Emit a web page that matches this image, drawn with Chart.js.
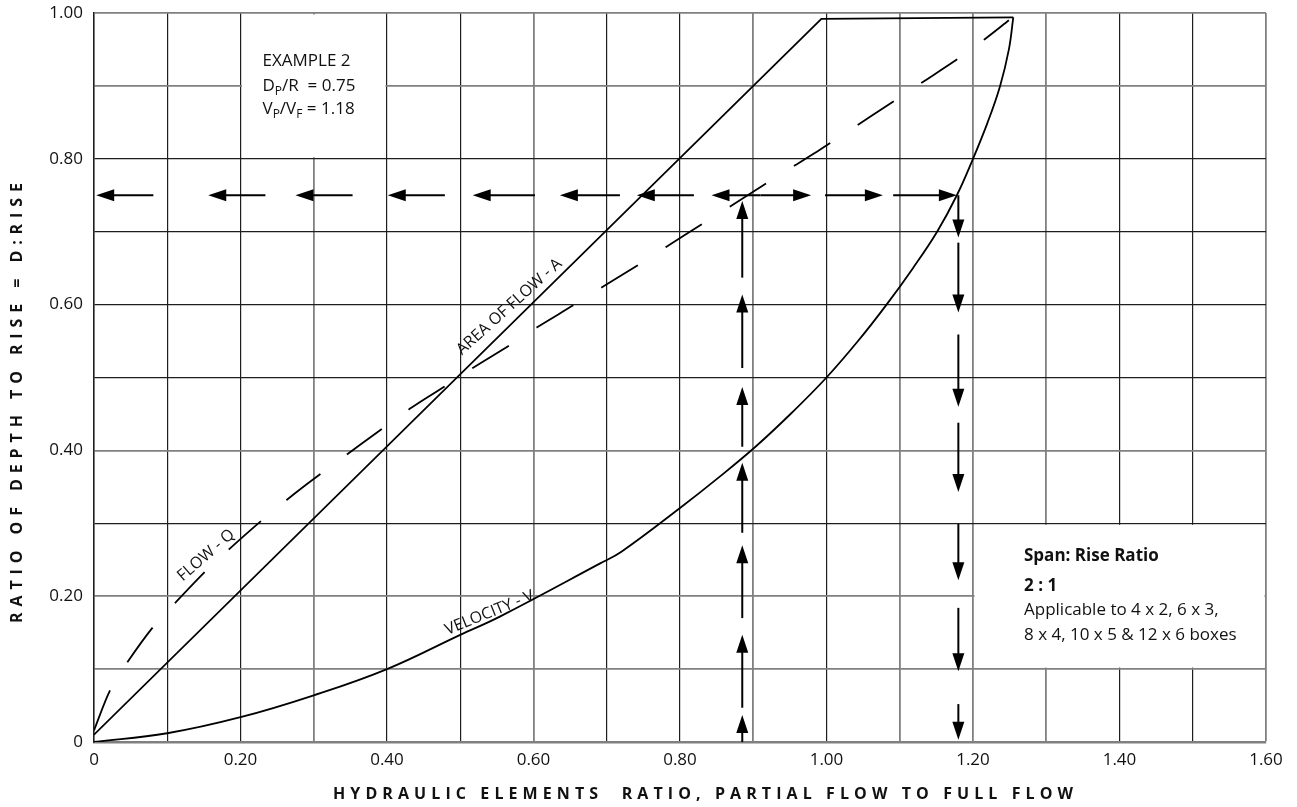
<!DOCTYPE html>
<html>
<head>
<meta charset="utf-8">
<title>Hydraulic elements – 2:1 box section</title>
<script src="https://cdn.jsdelivr.net/npm/chart.js@4.4.1/dist/chart.umd.min.js"></script>
<style>
  html, body { margin: 0; padding: 0; background: #fff; }
  #wrap { width: 1297px; height: 807px; position: relative; }
</style>
</head>
<body>
<div id="wrap"><canvas id="chart" width="1297" height="807"></canvas></div>
<script>
// ---- Tick labels (every second 0.1 step is labelled) ----
const xTickLabels = ['0', '0.20', '0.40', '0.60', '0.80', '1.00', '1.20', '1.40', '1.60'];
const yTickLabels = ['0', '0.20', '0.40', '0.60', '0.80', '1.00'];

// ---- Area of flow – A (solid) ----
const areaX = [0, 0.993, 1.255];
const areaY = [0.01, 0.992, 0.994];

// ---- Velocity – V (solid) ----
const velocityX = [0, 0.1, 0.2, 0.3, 0.4, 0.5, 0.554, 0.691, 0.72, 0.8, 0.853, 0.903, 0.953, 1.0, 1.043, 1.082, 1.118, 1.151, 1.178, 1.2, 1.22, 1.237, 1.249, 1.255];
const velocityY = [0, 0.012, 0.034, 0.064, 0.1, 0.147, 0.172, 0.245, 0.261, 0.321, 0.363, 0.405, 0.452, 0.5, 0.55, 0.6, 0.65, 0.7, 0.75, 0.8, 0.85, 0.9, 0.95, 0.994];

// ---- Flow – Q (dashed) ----
const flowX = [0, 0.022, 0.046, 0.080, 0.111, 0.152, 0.185, 0.229, 0.263, 0.299, 0.431, 0.479, 0.517, 0.567, 0.605, 0.656, 0.694, 0.744, 0.781, 0.831, 0.869, 0.919, 0.957, 0.992, 1.131, 1.18, 1.216, 1.249];
const flowY = [0.016, 0.071, 0.110, 0.157, 0.191, 0.234, 0.265, 0.304, 0.332, 0.36, 0.457, 0.488, 0.513, 0.544, 0.569, 0.6, 0.624, 0.655, 0.679, 0.711, 0.735, 0.767, 0.791, 0.813, 0.905, 0.9375, 0.964, 0.99];

// ---- Example 2 read-off ----
const depthRatio = 0.75;     // Dp/R
const velocityRatio = 1.18;  // Vp/Vf
const flowRatio = 0.885;     // Qp/Qf read at depth 0.75

// arrows along the depth line: [tail x, tip x]
const leftArrows  = [[0.081, 0.003], [0.234, 0.156], [0.353, 0.275], [0.479, 0.401], [0.602, 0.517], [0.718, 0.636], [0.819, 0.741], [0.91, 0.843]];
const rightArrows = [[0.91, 0.979], [0.998, 1.077], [1.091, 1.178]];
// arrows up the flow line and down the velocity line: [tail y, tip y]
const upArrows   = [[0, 0.037], [0.047, 0.147], [0.170, 0.270], [0.287, 0.383], [0.405, 0.487], [0.513, 0.614], [0.637, 0.742]];
const downArrows = [[0.75, 0.692], [0.685, 0.589], [0.559, 0.460], [0.438, 0.343], [0.299, 0.222], [0.184, 0.097], [0.052, 0.003]];

// ---- Styling ----
const FONT = "'Open Sans', 'DejaVu Sans', sans-serif";
const GREY = '#808080', DARK = '#1e1e1e';
// tone of each 0.1 grid line, g = grey / d = dark
const xGridTone = 'dddgddgddgdgggddg';
const yGridTone = 'gggdgddddgg';

Chart.defaults.font.family = FONT;
Chart.defaults.color = '#111';

const toPoints = (xs, ys) => xs.map((v, i) => ({ x: v, y: ys[i] }));

function drawArrow(ctx, x1, y1, x2, y2) {
  const L = 18, W = 6;
  const dx = x2 - x1, dy = y2 - y1, len = Math.hypot(dx, dy);
  const ux = dx / len, uy = dy / len;
  const bx = x2 - ux * L, by = y2 - uy * L;
  ctx.beginPath();
  ctx.moveTo(x1, y1);
  ctx.lineTo(bx + ux * 2, by + uy * 2);
  ctx.stroke();
  ctx.beginPath();
  ctx.moveTo(x2, y2);
  ctx.lineTo(bx - uy * W, by + ux * W);
  ctx.lineTo(bx + uy * W, by - ux * W);
  ctx.closePath();
  ctx.fill();
}

// draws a line of text made of runs, some of them subscript
function drawRuns(ctx, x, y, runs, size) {
  let cx = x;
  for (const [t, sub] of runs) {
    ctx.font = (sub ? Math.round(size * 0.7) : size) + 'px ' + FONT;
    ctx.fillText(t, cx, sub ? y + 5 : y);
    cx += ctx.measureText(t).width;
  }
}

function rotatedLabel(ctx, text, px, py, deg, size) {
  ctx.save();
  ctx.translate(px, py);
  ctx.rotate(deg * Math.PI / 180);
  ctx.font = size + 'px ' + FONT;
  ctx.textAlign = 'center';
  ctx.textBaseline = 'middle';
  ctx.fillText(text, 0, 0);
  ctx.restore();
}

function spacedText(ctx, text, cx, cy, width, rot) {
  ctx.save();
  ctx.font = 'bold 16px ' + FONT;
  ctx.letterSpacing = '0px';
  const w0 = ctx.measureText(text).width;
  const ls = (width - w0) / (text.length - 1);
  ctx.letterSpacing = ls + 'px';
  ctx.translate(cx, cy);
  if (rot) ctx.rotate(rot);
  ctx.textAlign = 'left';
  ctx.textBaseline = 'middle';
  ctx.fillStyle = '#111';
  ctx.fillText(text, -width / 2, 0);
  ctx.restore();
}

const notes = {
  id: 'notes',
  beforeDatasetsDraw(chart) {
    const { ctx, scales: { x, y } } = chart;
    ctx.save();
    ctx.fillStyle = '#fff';
    // white panels behind the two text blocks
    for (const [x0, x1, y0, y1] of [[0.2, 0.4, 0.8, 1.0], [1.2, 1.6, 0.1, 0.3]]) {
      const l = x.getPixelForValue(x0) + 1.5, r = x.getPixelForValue(x1) - 1.5;
      const t = y.getPixelForValue(y1) + 1.5, b = y.getPixelForValue(y0) - 1.5;
      ctx.fillRect(l, t, r - l, b - t);
    }
    ctx.restore();
  },
  afterDatasetsDraw(chart) {
    const { ctx, scales: { x, y } } = chart;
    ctx.save();
    ctx.strokeStyle = '#000';
    ctx.fillStyle = '#000';
    ctx.lineWidth = 2;
    const yd = y.getPixelForValue(depthRatio);
    for (const [a, b] of leftArrows.concat(rightArrows)) {
      drawArrow(ctx, x.getPixelForValue(a), yd, x.getPixelForValue(b), yd);
    }
    const xq = x.getPixelForValue(flowRatio);
    for (const [a, b] of upArrows) {
      drawArrow(ctx, xq, y.getPixelForValue(a), xq, y.getPixelForValue(b));
    }
    const xv = x.getPixelForValue(velocityRatio);
    for (const [a, b] of downArrows) {
      drawArrow(ctx, xv, y.getPixelForValue(a), xv, y.getPixelForValue(b));
    }

    // curve names
    ctx.fillStyle = '#111';
    rotatedLabel(ctx, 'AREA OF FLOW - A', x.getPixelForValue(0.567), y.getPixelForValue(0.597), -42, 16);
    rotatedLabel(ctx, 'FLOW - Q', x.getPixelForValue(0.153), y.getPixelForValue(0.256), -41, 16);
    rotatedLabel(ctx, 'VELOCITY - V', x.getPixelForValue(0.54), y.getPixelForValue(0.177), -22, 16);

    // example block
    ctx.textAlign = 'left';
    ctx.textBaseline = 'middle';
    const ex = x.getPixelForValue(0.2), ey = y.getPixelForValue(1.0);
    drawRuns(ctx, ex + 22, ey + 48.5, [['EXAMPLE 2']], 17);
    drawRuns(ctx, ex + 22, ey + 73.5, [['D'], ['P', 1], ['/R  = 0.75']], 17);
    drawRuns(ctx, ex + 22, ey + 96.5, [['V'], ['P', 1], ['/V'], ['F', 1], [' = 1.18']], 17);

    // span : rise block
    const sx = x.getPixelForValue(1.2) + 51, sy = y.getPixelForValue(0.3);
    ctx.font = 'bold 17px ' + FONT;
    ctx.fillText('Span: Rise Ratio', sx, sy + 33);
    ctx.fillText('2 : 1', sx, sy + 63);
    ctx.font = '17px ' + FONT;
    ctx.fillText('Applicable to 4 x 2, 6 x 3,', sx, sy + 87);
    ctx.fillText('8 x 4, 10 x 5 & 12 x 6 boxes', sx, sy + 111.5);
    ctx.restore();
  },
  afterDraw(chart) {
    const { ctx } = chart;
    spacedText(ctx, 'HYDRAULIC ELEMENTS  RATIO, PARTIAL FLOW TO FULL FLOW', 703, 794, 740, 0);
    spacedText(ctx, 'RATIO OF DEPTH TO RISE = D:RISE', 17, 403, 440, -Math.PI / 2);
  }
};

const tickLabel = (labels) => (v) => {
  const k = Math.round(v * 10);
  return k % 2 ? '' : labels[k / 2];
};

new Chart(document.getElementById('chart'), {
  type: 'line',
  data: {
    datasets: [
      { label: 'Area of flow - A', data: toPoints(areaX, areaY), borderColor: '#000', borderWidth: 1.8, pointRadius: 0, tension: 0, fill: false },
      { label: 'Velocity - V', data: toPoints(velocityX, velocityY), borderColor: '#000', borderWidth: 1.8, pointRadius: 0, tension: 0.4, fill: false },
      { label: 'Flow - Q', data: toPoints(flowX, flowY), borderColor: '#000', borderWidth: 1.8, borderDash: [43, 33], pointRadius: 0, tension: 0.3, fill: false }
    ]
  },
  options: {
    responsive: false,
    animation: false,
    devicePixelRatio: 1,
    layout: { padding: { left: 0, right: 31, top: 13, bottom: 0 } },
    plugins: { legend: { display: false }, tooltip: { enabled: false } },
    scales: {
      x: {
        type: 'linear', min: 0, max: 1.6,
        afterFit: (s) => { s.height = 65; s.paddingLeft = 0; s.paddingRight = 0; },
        ticks: { stepSize: 0.1, autoSkip: false, maxRotation: 0, padding: 8, font: { size: 17 }, color: '#111', callback: tickLabel(xTickLabels) },
        grid: {
          drawTicks: false,
          color: (c) => xGridTone[c.index] === 'g' ? GREY : DARK,
          lineWidth: (c) => xGridTone[c.index] === 'g' ? 1.8 : 1.2
        },
        border: { display: true, color: GREY, width: 2.5 }
      },
      y: {
        type: 'linear', min: 0, max: 1.0,
        afterFit: (s) => { s.width = 94; s.paddingTop = 0; s.paddingBottom = 0; },
        ticks: { stepSize: 0.1, autoSkip: false, padding: 11, font: { size: 17 }, color: '#111', callback: tickLabel(yTickLabels) },
        grid: {
          drawTicks: false,
          color: (c) => yGridTone[c.index] === 'g' ? GREY : DARK,
          lineWidth: (c) => yGridTone[c.index] === 'g' ? 1.8 : 1.2
        },
        border: { display: true, color: DARK, width: 1.5 }
      }
    }
  },
  plugins: [notes]
});
</script>
</body>
</html>
